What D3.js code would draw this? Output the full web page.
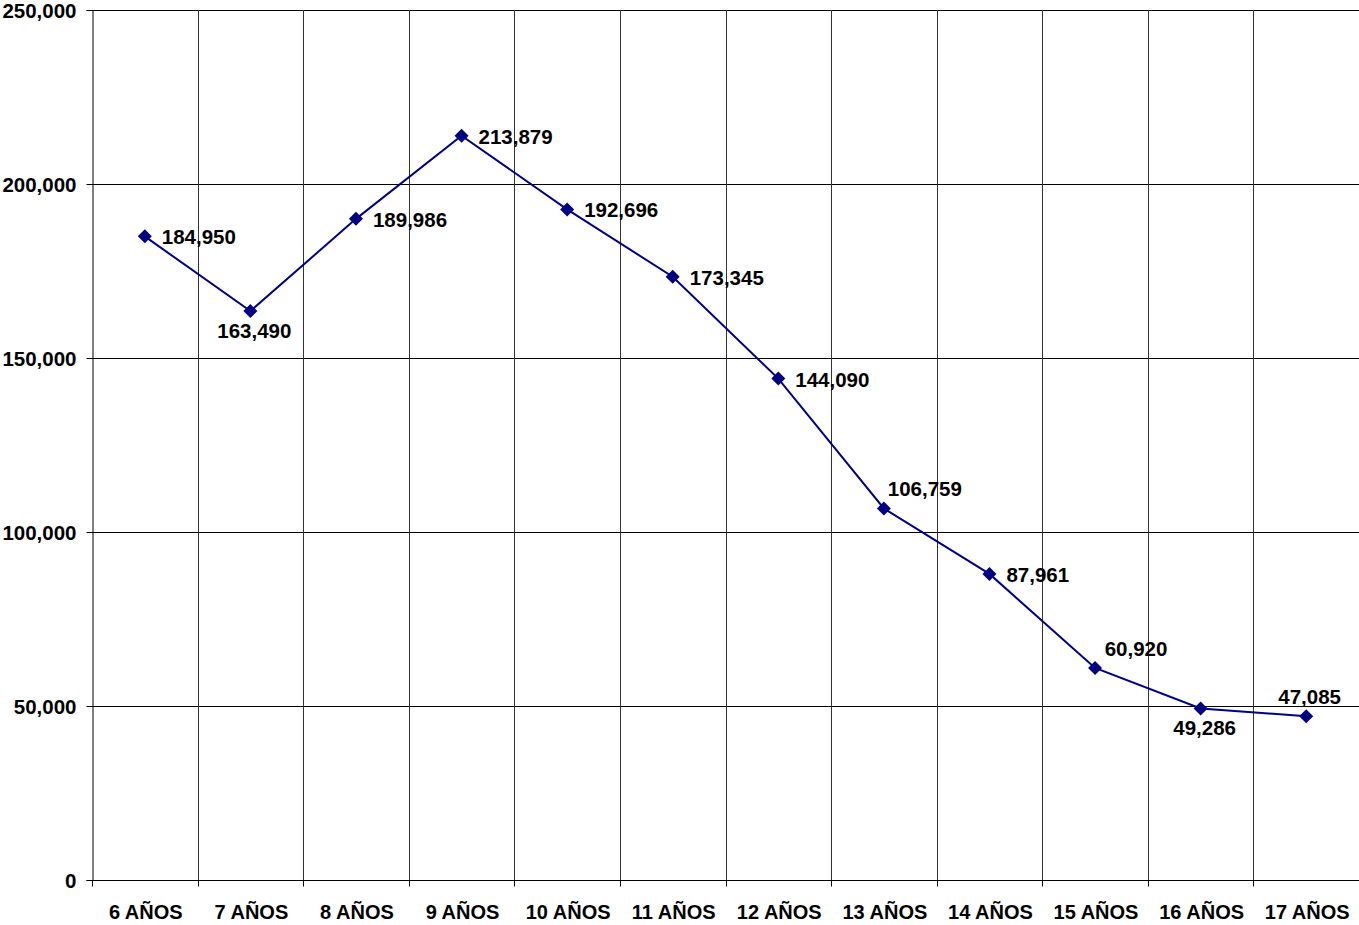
<!DOCTYPE html>
<html><head><meta charset="utf-8">
<script src="https://cdn.jsdelivr.net/npm/d3@7"></script>
<style>body{margin:0;background:#fff}svg{display:block}text{font-family:"Liberation Sans",Arial,sans-serif;font-weight:bold}</style>
</head><body><svg id="c" width="1359" height="925"></svg>
<script>
const categories = ["6 AÑOS","7 AÑOS","8 AÑOS","9 AÑOS","10 AÑOS","11 AÑOS","12 AÑOS","13 AÑOS","14 AÑOS","15 AÑOS","16 AÑOS","17 AÑOS"];
const values = [184950,163490,189986,213879,192696,173345,144090,106759,87961,60920,49286,47085];
const labelPos = ["right","below","right","right","right","right","right","above","right","above","below","above"];
const yTicks = [0,50000,100000,150000,200000,250000];

const svg = d3.select("#c");
const m = {l:92, r:1359, t:10, b:880};
const x = d3.scaleBand().domain(categories).range([m.l, m.r]);
const y = d3.scaleLinear().domain([0,250000]).range([m.b, m.t]);
const fmt = d3.format(",");
const FS = 20.5, FX = 20;

// horizontal grid
svg.append("g").selectAll("line").data(yTicks).join("line")
  .attr("x1", m.l).attr("x2", m.r)
  .attr("y1", d=>Math.round(y(d))+0.5).attr("y2", d=>Math.round(y(d))+0.5)
  .attr("stroke","#000").attr("stroke-width",1);
// vertical grid at band boundaries
const bounds = categories.slice(1).map(c=>x(c));
svg.append("g").selectAll("line").data(bounds).join("line")
  .attr("x1", d=>Math.round(d)+0.5).attr("x2", d=>Math.round(d)+0.5)
  .attr("y1", m.t).attr("y2", m.b)
  .attr("stroke","#333").attr("stroke-width",1);

// y axis
const ya = svg.append("g").attr("transform",`translate(${m.l+0.5},0)`)
  .call(d3.axisLeft(y).tickValues(yTicks).tickFormat(fmt).tickSize(6).tickPadding(10));
ya.select(".domain").attr("stroke","#000");
ya.selectAll("line").attr("stroke","#000");
ya.selectAll("text").attr("font-size",FS).attr("fill","#000").attr("dy","0.35em")
  .style("font-family",'"Liberation Sans",Arial,sans-serif').style("font-weight","bold");

// x axis ticks at boundaries
const xa = svg.append("g").attr("transform",`translate(0,${Math.round(y(0))+0.5})`);
xa.selectAll("line").data([m.l, ...bounds]).join("line")
  .attr("x1", d=>Math.round(d)+0.5).attr("x2", d=>Math.round(d)+0.5)
  .attr("y1",0).attr("y2",6).attr("stroke","#000");
xa.selectAll("text").data(categories).join("text")
  .attr("x", d=>x(d)+x.bandwidth()/2+1).attr("y", 38)
  .attr("text-anchor","middle").attr("font-size",FX).attr("fill","#000").text(d=>d);

// line
const pts = categories.map((c,i)=>({c, v:values[i], p:labelPos[i]}));
const cx = d=>x(d.c)+x.bandwidth()/2;
svg.append("path").datum(pts)
  .attr("d", d3.line().x(cx).y(d=>y(d.v)))
  .attr("fill","none").attr("stroke","#000080").attr("stroke-width",2);
svg.append("g").selectAll("path").data(pts).join("path")
  .attr("transform", d=>`translate(${cx(d)},${y(d.v)})`)
  .attr("d","M0,-7L7,0L0,7L-7,0Z").attr("fill","#000080");

// labels
const lab = svg.append("g").selectAll("text").data(pts).join("text")
  .attr("x", d=> d.p==="right" ? cx(d)+17 : d.p==="below" ? cx(d)+4 : cx(d)+41)
  .attr("y", d=> d.p==="right" ? y(d.v)+8 : d.p==="below" ? y(d.v)+27 : y(d.v)-12)
  .attr("text-anchor", d=> d.p==="right" ? "start" : "middle")
  .attr("font-size",FS).attr("fill","#000").text(d=>fmt(d.v));
// keep labels inside the chart
lab.each(function(){
  const b = this.getBBox();
  if (b.x + b.width > 1341) d3.select(this).attr("x", +d3.select(this).attr("x") - (b.x + b.width - 1341));
});
</script></body></html>
